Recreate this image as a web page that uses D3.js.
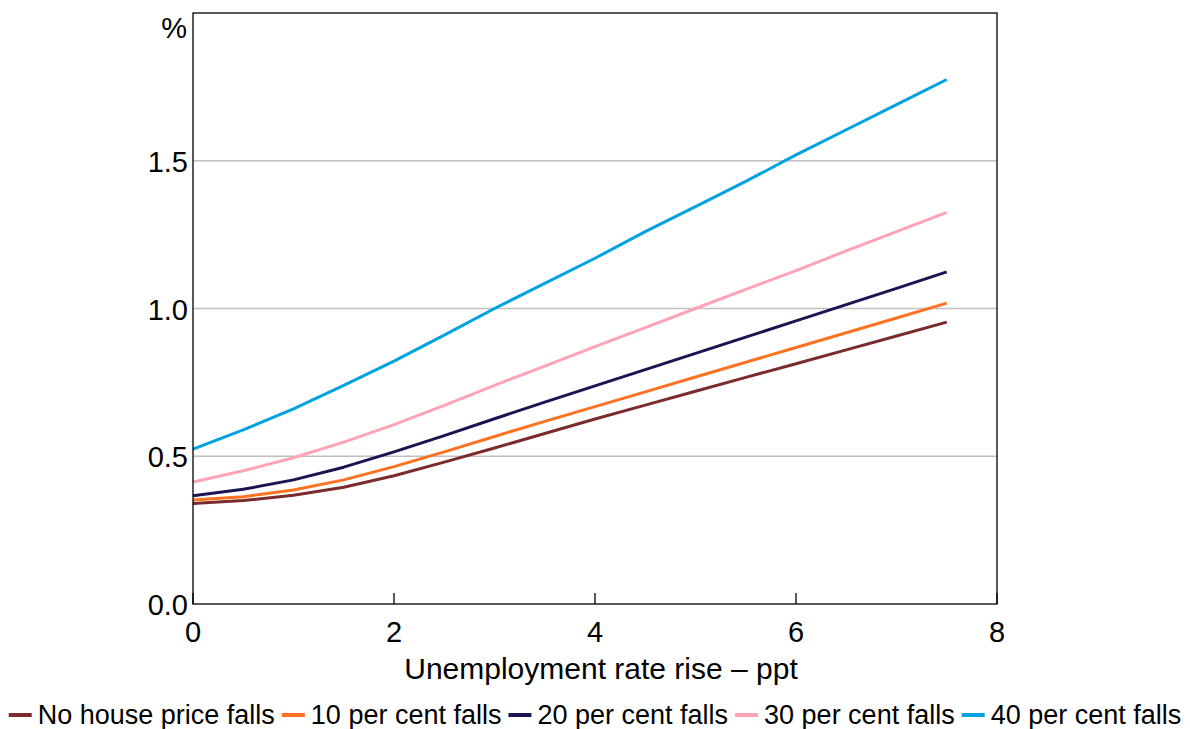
<!DOCTYPE html>
<html>
<head>
<meta charset="utf-8">
<script src="https://cdn.jsdelivr.net/npm/d3@7"></script>
<style>
  html, body { margin: 0; padding: 0; background: #fff; }
  svg { display: block; font-family: "Liberation Sans", Arial, sans-serif; }
</style>
</head>
<body>
<svg id="chart" width="1190" height="729"></svg>
<script>
// ---- Data ----
const xValues = [0, 0.5, 1, 1.5, 2, 2.5, 3, 3.5, 4, 4.5, 5, 5.5, 6, 6.5, 7, 7.5];
const seriesNames = ["No house price falls", "10 per cent falls", "20 per cent falls", "30 per cent falls", "40 per cent falls"];
const noFalls   = [0.340, 0.350, 0.368, 0.395, 0.434, 0.480, 0.528, 0.577, 0.626, 0.673, 0.720, 0.767, 0.813, 0.860, 0.907, 0.954];
const falls10   = [0.352, 0.363, 0.386, 0.420, 0.465, 0.515, 0.567, 0.618, 0.668, 0.718, 0.768, 0.818, 0.868, 0.918, 0.968, 1.018];
const falls20   = [0.366, 0.388, 0.420, 0.463, 0.515, 0.570, 0.627, 0.683, 0.738, 0.793, 0.848, 0.903, 0.958, 1.013, 1.068, 1.124];
const falls30   = [0.413, 0.451, 0.495, 0.548, 0.607, 0.672, 0.740, 0.805, 0.871, 0.935, 1.000, 1.065, 1.128, 1.195, 1.260, 1.325];
const falls40   = [0.524, 0.589, 0.660, 0.740, 0.822, 0.910, 1.000, 1.085, 1.170, 1.260, 1.345, 1.430, 1.520, 1.605, 1.690, 1.775];
const seriesValues = [noFalls, falls10, falls20, falls30, falls40];
const seriesColors = ["#7b2b2b", "#ff7222", "#1b1452", "#ffa3b5", "#00a2e1"];
const xTicks = [0, 2, 4, 6, 8];
const yTicks = [0, 0.5, 1.0, 1.5];
const xTitle = "Unemployment rate rise \u2013 ppt";
const yUnit = "%";

// ---- Layout ----
const svg = d3.select("#chart");
const L = 193, R = 997, T = 13, B = 604;
const x = d3.scaleLinear().domain([0, 8]).range([L, R]);
const y = d3.scaleLinear().domain([0, 2]).range([B, T]);

// gridlines
svg.append("g").selectAll("line").data(yTicks.filter(d => d > 0)).join("line")
  .attr("x1", L).attr("x2", R)
  .attr("y1", d => y(d)).attr("y2", d => y(d))
  .attr("stroke", "#c0c0c0").attr("stroke-width", 1.3);

// y tick labels
svg.append("g").selectAll("text").data(yTicks).join("text")
  .attr("x", L - 5).attr("y", d => y(d) + 1)
  .attr("text-anchor", "end").attr("dominant-baseline", "central")
  .attr("font-size", 29).attr("fill", "#000")
  .text(d => d3.format(".1f")(d));

svg.append("text").attr("x", L - 6).attr("y", 28)
  .attr("text-anchor", "end").attr("dominant-baseline", "central")
  .attr("font-size", 29).text(yUnit);

// x axis ticks (inward)
svg.append("g").selectAll("line").data(xTicks).join("line")
  .attr("x1", d => x(d)).attr("x2", d => x(d))
  .attr("y1", B).attr("y2", B - 11)
  .attr("stroke", "#000").attr("stroke-width", 1.3);

svg.append("g").selectAll("text").data(xTicks).join("text")
  .attr("x", d => x(d)).attr("y", B + 28)
  .attr("text-anchor", "middle").attr("dominant-baseline", "central")
  .attr("font-size", 29).text(d => d);

svg.append("text").attr("x", 601).attr("y", 668)
  .attr("text-anchor", "middle").attr("dominant-baseline", "central")
  .attr("font-size", 30).text(xTitle);

// lines
const line = d3.line().x((d, i) => x(xValues[i])).y(d => y(d));
svg.append("g").selectAll("path").data(seriesValues).join("path")
  .attr("d", d => line(d))
  .attr("fill", "none")
  .attr("stroke", (d, i) => seriesColors[i])
  .attr("stroke-width", 3)
  .attr("stroke-linejoin", "round");

// frame
svg.append("rect").attr("x", L).attr("y", T).attr("width", R - L).attr("height", B - T)
  .attr("fill", "none").attr("stroke", "#000").attr("stroke-width", 1.3);

// legend
const leg = svg.append("g");
const items = [];
let cx = 0;
const fs = 27;
const tmp = svg.append("text").attr("font-size", fs);
seriesNames.forEach((n, i) => {
  tmp.text(n);
  const w = tmp.node().getComputedTextLength();
  items.push({ n, i, x: cx, w });
  cx += 23 + 6 + w + 7;
});
tmp.remove();
const totalW = cx - 7;
const startX = (1190 - totalW) / 2;
const legY = 715;
items.forEach(it => {
  const g = leg.append("g").attr("transform", `translate(${startX + it.x},0)`);
  g.append("line").attr("x1", 0).attr("x2", 23).attr("y1", legY).attr("y2", legY)
    .attr("stroke", seriesColors[it.i]).attr("stroke-width", 4);
  g.append("text").attr("x", 29).attr("y", legY)
    .attr("dominant-baseline", "central").attr("font-size", fs).text(it.n);
});
</script>
</body>
</html>
